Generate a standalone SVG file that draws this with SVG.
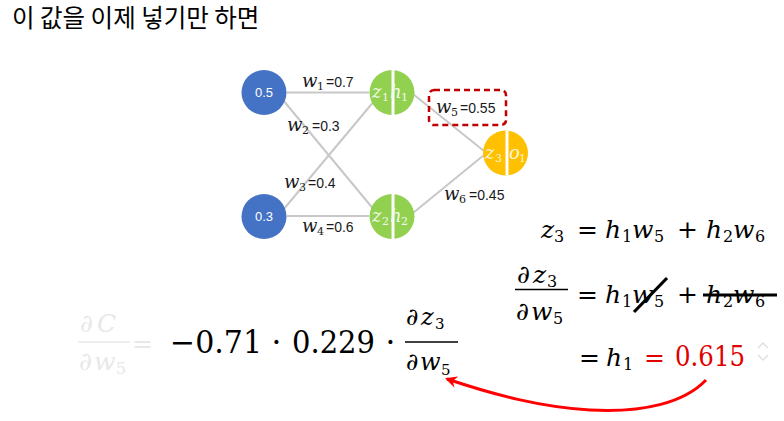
<svg xmlns="http://www.w3.org/2000/svg" width="784" height="421" viewBox="0 0 784 421">
<defs>
<style>
.mi{font-family:"DejaVu Serif","Liberation Serif",serif;font-style:italic}
.mn{font-family:"DejaVu Serif","Liberation Serif",serif}
.ss{font-family:"Liberation Sans","Noto Sans",sans-serif}
.edge{stroke:#C8C8C8;stroke-width:2;fill:none}
.lbl{fill:#1a1a1a}
.div{stroke:#ffffff;stroke-width:3}
</style>
<marker id="ah" viewBox="0 0 12 12" refX="10" refY="6" markerWidth="12" markerHeight="12" markerUnits="userSpaceOnUse" orient="auto">
<path d="M0,0 L12,6 L0,12 L4,6 Z" fill="#FF0000"/>
</marker>
</defs>
<rect width="784" height="421" fill="#ffffff"/>

<text x="12" y="27" font-family="'Noto Sans CJK KR','Noto Sans',sans-serif" font-size="24.5" fill="#000">이 값을 이제 넣기만 하면</text>

<g id="connectors">
<line class="edge" x1="287" y1="92.5" x2="369" y2="92.5"/>
<line class="edge" x1="283" y1="100" x2="375" y2="211"/>
<line class="edge" x1="283" y1="210" x2="375" y2="100"/>
<line class="edge" x1="287" y1="216" x2="369" y2="216"/>
<line class="edge" x1="413" y1="94" x2="484" y2="151"/>
<line class="edge" x1="413" y1="213" x2="484" y2="155"/>
</g>

<g id="weights">
<text class="lbl" y="87"><tspan class="mi" x="302" font-size="18">w</tspan><tspan class="mn" x="317" y="90" font-size="11">1</tspan><tspan class="ss" x="326" y="87" font-size="14">=0.7</tspan></text>
<text class="lbl" y="131"><tspan class="mi" x="287" font-size="18">w</tspan><tspan class="mn" x="302" y="134" font-size="11">2</tspan><tspan class="ss" x="312" y="131" font-size="14">=0.3</tspan></text>
<text class="lbl" y="188"><tspan class="mi" x="284" font-size="18">w</tspan><tspan class="mn" x="299" y="191" font-size="11">3</tspan><tspan class="ss" x="308" y="188" font-size="14">=0.4</tspan></text>
<text class="lbl" y="232"><tspan class="mi" x="302" font-size="18">w</tspan><tspan class="mn" x="317" y="235" font-size="11">4</tspan><tspan class="ss" x="326" y="232" font-size="14">=0.6</tspan></text>
<text class="lbl" y="113"><tspan class="mi" x="436" font-size="18">w</tspan><tspan class="mn" x="451" y="116" font-size="11">5</tspan><tspan class="ss" x="460" y="113" font-size="14">=0.55</tspan></text>
<text class="lbl" y="200"><tspan class="mi" x="444" font-size="18">w</tspan><tspan class="mn" x="459" y="203" font-size="11">6</tspan><tspan class="ss" x="469" y="200" font-size="14">=0.45</tspan></text>
<rect x="429" y="90" width="77" height="35" rx="5" fill="none" stroke="#C00000" stroke-width="2.5" stroke-dasharray="6 4"/>
</g>

<g id="x1">
<circle cx="264" cy="92.5" r="22.5" fill="#4472C4"/>
<text x="264" y="97" text-anchor="middle" class="ss" font-size="13" fill="#fff">0.5</text>
</g>
<g id="x2">
<circle cx="264" cy="216.5" r="22.5" fill="#4472C4"/>
<text x="264" y="221" text-anchor="middle" class="ss" font-size="13" fill="#fff">0.3</text>
</g>
<g id="h1">
<circle cx="392" cy="92.5" r="22.5" fill="#92D050"/>
<line class="div" x1="393" y1="70" x2="393" y2="115"/>
<text fill="#F0F8E8" y="98"><tspan class="mi" x="372" font-size="18">z</tspan><tspan class="mn" x="382" y="101" font-size="11">1</tspan><tspan class="mi" x="390" y="98" font-size="18">h</tspan><tspan class="mn" x="401" y="101" font-size="11">1</tspan></text>
</g>
<g id="h2">
<circle cx="392" cy="216.5" r="22.5" fill="#92D050"/>
<line class="div" x1="393" y1="194" x2="393" y2="239"/>
<text fill="#F0F8E8" y="222"><tspan class="mi" x="372" font-size="18">z</tspan><tspan class="mn" x="382" y="225" font-size="11">2</tspan><tspan class="mi" x="390" y="222" font-size="18">h</tspan><tspan class="mn" x="401" y="225" font-size="11">2</tspan></text>
</g>
<g id="o1">
<circle cx="505.5" cy="153" r="22.5" fill="#FFC000"/>
<line class="div" x1="507" y1="130.5" x2="507" y2="175.5"/>
<text fill="#FFF3D0" y="158.5"><tspan class="mi" x="485" font-size="18">z</tspan><tspan class="mn" x="495" y="161.5" font-size="11">3</tspan><tspan class="mi" x="509" y="158.5" font-size="18">o</tspan><tspan class="mn" x="519" y="161.5" font-size="11">1</tspan></text>
</g>

<g id="eq1" fill="#000">
<text y="238" font-size="25"><tspan class="mi" x="541">z</tspan><tspan class="mn" x="554" y="242" font-size="16">3</tspan><tspan class="mn" x="577" y="238">=</tspan><tspan class="mi" x="605">h</tspan><tspan class="mn" x="622" y="242" font-size="16">1</tspan><tspan class="mi" x="632" y="238">w</tspan><tspan class="mn" x="654" y="242" font-size="16">5</tspan><tspan class="mn" x="677" y="238">+</tspan><tspan class="mi" x="706">h</tspan><tspan class="mn" x="723" y="242" font-size="16">2</tspan><tspan class="mi" x="733" y="238">w</tspan><tspan class="mn" x="755" y="242" font-size="16">6</tspan></text>
</g>

<g id="eq2" fill="#000">
<text y="283" font-size="25"><tspan class="mn" x="517">∂</tspan><tspan class="mi" x="533">z</tspan><tspan class="mn" x="547" y="287" font-size="16">3</tspan></text>
<line x1="515" y1="289.5" x2="568" y2="289.5" stroke="#000" stroke-width="1.6"/>
<text y="320" font-size="25"><tspan class="mn" x="516">∂</tspan><tspan class="mi" x="531">w</tspan><tspan class="mn" x="553" y="324" font-size="16">5</tspan></text>
<text y="303" font-size="25"><tspan class="mn" x="577">=</tspan><tspan class="mi" x="605">h</tspan><tspan class="mn" x="622" y="307" font-size="16">1</tspan><tspan class="mi" x="632" y="303">w</tspan><tspan class="mn" x="654" y="307" font-size="16">5</tspan><tspan class="mn" x="677" y="303">+</tspan><tspan class="mi" x="706">h</tspan><tspan class="mn" x="723" y="307" font-size="16">2</tspan><tspan class="mi" x="733" y="303">w</tspan><tspan class="mn" x="755" y="307" font-size="16">6</tspan></text>
<line x1="634" y1="312" x2="667" y2="278" stroke="#000" stroke-width="3.2"/>
<line x1="703" y1="295" x2="777" y2="295" stroke="#000" stroke-width="3"/>
</g>

<g id="eq3">
<text y="366" font-size="25" fill="#000"><tspan class="mn" x="579">=</tspan><tspan class="mi" x="606">h</tspan><tspan class="mn" x="623" y="370" font-size="16">1</tspan></text>
<text y="366" font-size="25" fill="#E00000"><tspan class="mn" x="644">=</tspan></text>
<text class="mn" x="675" y="366" font-size="27" fill="#E00000" textLength="70" lengthAdjust="spacingAndGlyphs">0.615</text>
<polyline points="758,348 763,343 768,348" fill="none" stroke="#E0E0E0" stroke-width="1.5"/>
<polyline points="758,355 763,360 768,355" fill="none" stroke="#E0E0E0" stroke-width="1.5"/>
</g>

<g id="lhs">
<text y="332" font-size="25" fill="#E8E8E8"><tspan class="mn" x="80">∂</tspan><tspan class="mi" x="97">C</tspan></text>
<line x1="78" y1="342" x2="130" y2="342" stroke="#E8E8E8" stroke-width="1.6"/>
<text y="370" font-size="25" fill="#E8E8E8"><tspan class="mn" x="79">∂</tspan><tspan class="mi" x="94">w</tspan><tspan class="mn" x="116" y="374" font-size="16">5</tspan></text>
<text class="mn" x="132" y="352" font-size="25" fill="#E8E8E8">=</text>
<text class="mn" x="170" y="353" font-size="31" fill="#000" textLength="92" lengthAdjust="spacingAndGlyphs">−0.71</text>
<text class="mn" x="276.5" y="353" font-size="31" fill="#000" text-anchor="middle">·</text>
<text class="mn" x="292" y="353" font-size="31" fill="#000" textLength="83" lengthAdjust="spacingAndGlyphs">0.229</text>
<text class="mn" x="390.5" y="353" font-size="31" fill="#000" text-anchor="middle">·</text>
<text y="325" font-size="24" fill="#000"><tspan class="mn" x="406">∂</tspan><tspan class="mi" x="421">z</tspan><tspan class="mn" x="435" y="329" font-size="15">3</tspan></text>
<line x1="405" y1="342" x2="458" y2="342" stroke="#000" stroke-width="1.6"/>
<text y="370" font-size="24" fill="#000"><tspan class="mn" x="406">∂</tspan><tspan class="mi" x="420">w</tspan><tspan class="mn" x="441" y="375" font-size="15">5</tspan></text>
</g>

<g id="arrow">
<path d="M706,380 C685,402 645,413 590,410 C540,407 495,395 447,379" fill="none" stroke="#FF0000" stroke-width="3" marker-end="url(#ah)"/>
</g>
</svg>
